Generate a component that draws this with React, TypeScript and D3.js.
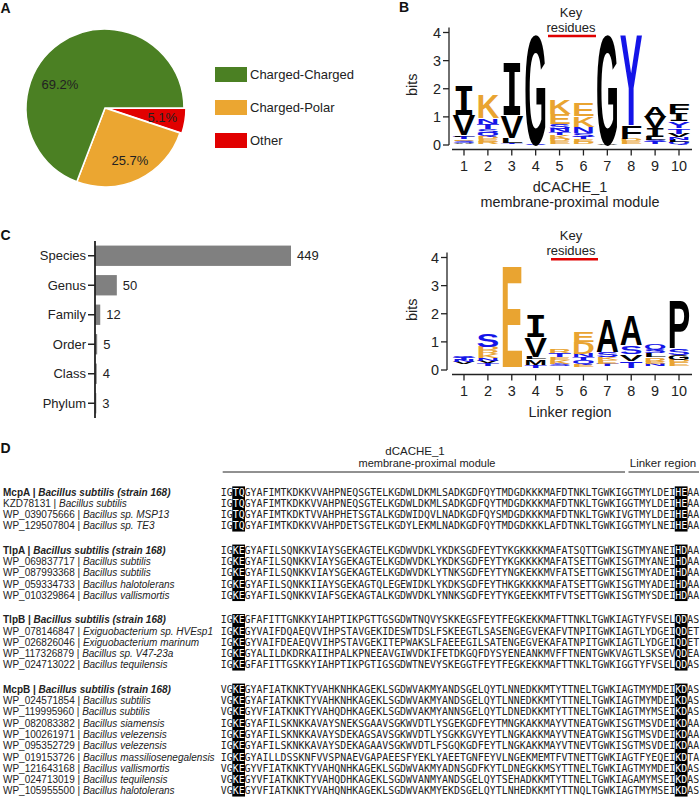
import React from 'react';
import * as d3 from 'd3';

const SANS = '"Liberation Sans", Arial, sans-serif';
const MONO = '"DejaVu Sans Mono", monospace';
const ORANGE = '#e9a431';
const BLUE = '#1414e8';

// Panel A: interaction types
const interactionTypes = ['Charged-Charged', 'Charged-Polar', 'Other'];
const interactionShare = [69.2, 25.7, 5.1];
const interactionColors = ['#4b8023', '#eba631', '#e10000'];

// Panel C: taxonomic ranks
const taxRanks = ['Species', 'Genus', 'Family', 'Order', 'Class', 'Phylum'];
const taxCounts = [449, 50, 12, 5, 4, 3];

// Logos
const logoPositions = [1, 2, 3, 4, 5, 6, 7, 8, 9, 10];
const bitTicks = [0, 1, 2, 3, 4];

type Stack = [string, number][];

const dcacheBase = [0.02, 0.03, 0.02, 0, 0.03, 0.03, 0, 0.03, 0.03, 0.02];
const dcacheStacks: Stack[] = [
  [['A', 0.06], ['S', 0.07], ['E', 0.06], ['T', 0.08], ['L', 0.06], ['V', 0.73], ['I', 1.02]],
  [['R', 0.08], ['E', 0.1], ['D', 0.1], ['Q', 0.12], ['S', 0.15], ['T', 0.17], ['N', 0.2], ['K', 0.85]],
  [['T', 0.05], ['L', 0.18], ['V', 0.8], ['I', 1.85]],
  [['S', 0.03], ['G', 3.97]],
  [['E', 0.1], ['D', 0.1], ['K', 0.12], ['T', 0.1], ['N', 0.13], ['S', 0.16], ['E', 0.35], ['K', 0.5]],
  [['D', 0.07], ['E', 0.1], ['T', 0.1], ['S', 0.12], ['N', 0.23], ['K', 0.38], ['E', 0.45]],
  [['A', 0.03], ['G', 3.97]],
  [['E', 0.1], ['D', 0.09], ['F', 0.48], ['Y', 3.3]],
  [['T', 0.07], ['S', 0.08], ['L', 0.12], ['I', 0.3], ['V', 0.4], ['A', 0.35]],
  [['Q', 0.08], ['L', 0.08], ['N', 0.1], ['V', 0.12], ['T', 0.2], ['Y', 0.25], ['I', 0.25], ['F', 0.37]],
];

const linkerBase = [0.2, 0.15, 0.1, 0.08, 0.15, 0.12, 0.15, 0.08, 0.15, 0.15];
const linkerStacks: Stack[] = [
  [['V', 0.07], ['N', 0.08], ['T', 0.07], ['S', 0.06], ['Q', 0.05]],
  [['T', 0.1], ['V', 0.08], ['N', 0.1], ['K', 0.14], ['R', 0.13], ['D', 0.13], ['S', 0.47]],
  [['E', 3.7]],
  [['T', 0.1], ['M', 0.2], ['L', 0.1], ['V', 0.7], ['I', 0.8]],
  [['S', 0.08], ['K', 0.12], ['E', 0.1], ['T', 0.15], ['R', 0.15]],
  [['E', 0.08], ['Q', 0.15], ['T', 0.1], ['N', 0.12], ['D', 0.43], ['E', 0.38]],
  [['T', 0.07], ['E', 0.13], ['K', 0.1], ['S', 0.2], ['A', 1.2]],
  [['T', 0.25], ['V', 0.25], ['S', 0.3], ['A', 1.08]],
  [['N', 0.08], ['E', 0.07], ['R', 0.15], ['L', 0.15], ['S', 0.15], ['Q', 0.2]],
  [['E', 0.12], ['D', 0.1], ['G', 0.18], ['S', 0.22], ['P', 1.73]],
];

// Panel D: alignment
const mcpaIds = ['McpA', 'KZD78131', 'WP_039075666', 'WP_129507804'];
const mcpaSpecies = ['Bacillus subtilis (strain 168)', 'Bacillus subtilis', 'Bacillus sp. MSP13', 'Bacillus sp. TE3'];
const mcpaSeqs = [
  'IGTQGYAFIMTKDKKVVAHPNEQSGTELKGDWLDKMLSADKGDFQYTMDGDKKKMAFDTNKLTGWKIGGTMYLDEIHEAA',
  'IGTQGYAFIMTKDKKVVAHPNEQSGTELKGDWLDKMLSADKGDFQYTMDGDKKKMAFDTNKLTGWKIGGTMYLDEIHEAA',
  'IGTQGYAFIMTKDKTVVAHPHETSGTALKGDWIDQVLNADKGDFQYSMDGDKKKMAFDTNKLTGWKIVGTMYLDEIHEAA',
  'IGTQGYAFIMTKDKKVVAHPDETSGTELKGDYLEKMLNADKGDFQYTMDGDKKKLAFDTNKLTGWKIGGTMYLNEIHEAA',
];
const tlpaIds = ['TlpA', 'WP_069837717', 'WP_087993368', 'WP_059334733', 'WP_010329864'];
const tlpaSpecies = ['Bacillus subtilis (strain 168)', 'Bacillus subtilis', 'Bacillus subtilis', 'Bacillus halotolerans', 'Bacillus vallismortis'];
const tlpaSeqs = [
  'IGKEGYAFILSQNKKVIAYSGEKAGTELKGDWVDKLYKDKSGDFEYTYKGKKKKMAFATSQTTGWKISGTMYANEIHDAA',
  'IGKEGYAFILSQNKKVIAYSGEKAGTELKGDWVDKLYKDKSGDFEYTYKGKKKKMAFATSETTGWKISGTMYANEIHDAA',
  'IGKEGYAFILSQNKKVIAYSGEKAGTELKGDWVDKLYTNKSGDFEYTYNGKEKKMVFATSETTGWKISGTMYADEIHDAA',
  'IGKEGYAFILSQNKKIIAYSGEKAGTQLEGEWIDKLYKDKSGDFEYTHKGKKKKMAFATSETTGWKISGTMYADEIHDAA',
  'IGKEGYAFILSQNKKVIAFSGEKAGTALKGDWVDKLYNNKSGDFEYTYKGEEKKMTFVTSETTGWKISGTMYSDEIHDAA',
];
const tlpbIds = ['TlpB', 'WP_078146847', 'WP_026826046', 'WP_117326879', 'WP_024713022'];
const tlpbSpecies = ['Bacillus subtilis (strain 168)', 'Exiguobacterium sp. HVEsp1', 'Exiguobacterium marinum', 'Bacillus sp. V47-23a', 'Bacillus tequilensis'];
const tlpbSeqs = [
  'IGKEGFAFITTGNKKYIAHPTIKPGTTGSGDWTNQVYSKKEGSFEYTFEGKEKKMAFTTNKLTGWKIAGTYFVSELQDAS',
  'IGKEGYVAIFDQAEQVVIHPSTAVGEKIDESWTDSLFSKEEGTLSASENGEGVEKAFVTNPITGWKIAGTLYDGEIQDET',
  'IGKEGYVAIFDEAEQVVIHPSTAVGEKITEPWAKSLFAEEEGILSATENGEGVEKAFATNPITGWKIAGTLYDGEIQDET',
  'IGKEGYALILDKDRKAIIHPALKPNEEAVGIWVDKIFETDKGQFDYSYENEANKMVFFTNENTGWKVAGTLSKSEVQDEA',
  'IGKEGFAFITTGSKKYIAHPTIKPGTIGSGDWTNEVYSKEGGTFEYTFEGKEKKMAFTTNKLTGWKIGGTYFVSELQDAS',
];
const mcpbIds = ['McpB', 'WP_024571854', 'WP_119995960', 'WP_082083382', 'WP_100261971', 'WP_095352729', 'WP_019153726', 'WP_121643168', 'WP_024713019', 'WP_105955500'];
const mcpbSpecies = ['Bacillus subtilis (strain 168)', 'Bacillus subtilis', 'Bacillus subtilis', 'Bacillus siamensis', 'Bacillus velezensis', 'Bacillus velezensis', 'Bacillus massiliosenegalensis', 'Bacillus vallismortis', 'Bacillus tequilensis', 'Bacillus halotolerans'];
const mcpbSeqs = [
  'VGKEGYAFIATKNKTYVAHKNHKAGEKLSGDWVAKMYANDSGELQYTLNNEDKKMTYTTNELTGWKIAGTMYMDEIKDAS',
  'VGKEGYAFIATKNKTYVAHKNHKAGEKLSGDWVAKMYANDSGELQYTLNNEDKKMTYTTNELTGWKIAGTMYMDEIKDAS',
  'VGKEGYVFIATKNKTYVAHQDHKAGEKLSGDWVAKMYANNSGELQYTLDNEDKKMTYTTNELTGWKIAGTMYMSEIKDAS',
  'IGKEGYAFILSKNKKAVAYSNEKSGAAVSGKWVDTLYSGEKGDFEYTMNGKAKKMAYVTNEATGWKISGTMSVDEIKDAA',
  'IGKEGYAFILSKNKKAVAYSDEKAGSAVSGKWVDTLYSGKKGVYEYTLNGKAKKMAYVTNEATGWKISGTMSVDEIKDAA',
  'IGKEGYAFILSKNKKAVAYSDEKAGAAVSGKWVDTLFSGQKGDFEYTLNGKAKKMAYVTNEVTGWKISGTMSVDEIKDAA',
  'IGKEGYAILLDSSKNFVVSPNAEVGAPAEESFYEKLYAEETGNFEYVLNGEKMEMTFVTNETTGWKIAGTFYEQEIKDTA',
  'VGKEGYVFIATKNKTYVAHQNHKAGEKLSGDWVAKMYADNSGDFKYTLDNEGKKMSYTTNELTGWKIAGTMYMDEIKDAS',
  'VGKEGYVFIATKNKTYVAHQDHKAGEKLSGDWVANMYANDSGELQYTSEHADKKMTYTTNELTGWKIAGAMYMSEIKDAS',
  'VGKEGYVFIATKNKTYVAHQNHKAGEKLSGDWVAKMYEKDSGELQYTLNHEDKKMTYTTNQLTGWKIAGTMYMSEIKDAS',
];
const conservedCols = [2, 3, 76, 77];

const residueColor = (aa: string) =>
  'KEDRH'.includes(aa) ? ORANGE : 'STNQYC'.includes(aa) ? BLUE : '#000';

function SeqLogo(props: {
  stacks: Stack[]; bases: number[]; zeroY: number; axisX: number;
  titles: string[]; keyY: number; keyLine: [number, number];
}) {
  const { stacks, bases, zeroY, axisX, titles, keyY, keyLine } = props;
  const x = d3.scaleLinear().domain([1, 10]).range([464, 679]);
  const y = d3.scaleLinear().domain([0, 4]).range([zeroY, zeroY - 112.5]);
  const colW = 22.8;
  const xAxisY = zeroY + 4.5;
  const letters: React.ReactNode[] = [];
  stacks.forEach((stack, ci) => {
    let acc = bases[ci];
    stack.forEach(([aa, h], li) => {
      const bottom = y(acc);
      const top = y(acc + h);
      acc += h;
      const ph = bottom - top;
      const serif = aa === 'I';
      const cap = serif ? 72.9 : 71.6;
      letters.push(
        <text key={`${ci}-${li}`} x={0} y={0} fontSize={100}
          fontFamily={serif ? MONO : SANS} fontWeight="bold" fill={residueColor(aa)}
          textLength={colW} lengthAdjust="spacingAndGlyphs"
          transform={`translate(${x(logoPositions[ci]) - colW / 2},${bottom}) scale(1,${ph / cap})`}>
          {aa}
        </text>
      );
    });
  });
  return (
    <g fontFamily={SANS} fill="#222">
      <text x={571} y={keyY} fontSize={13} textAnchor="middle">Key</text>
      <text x={571} y={keyY + 15.2} fontSize={13} textAnchor="middle">residues</text>
      <line x1={keyLine[0]} x2={keyLine[1]} y1={keyY + 19.6} y2={keyY + 19.6} stroke="#e00000" strokeWidth={2.5} />
      {letters}
      <line x1={axisX} x2={axisX} y1={y(0)} y2={y(4.18)} stroke="#222" strokeWidth={1.3} />
      {bitTicks.map(t => (
        <g key={t}>
          <line x1={axisX - 6} x2={axisX} y1={y(t)} y2={y(t)} stroke="#222" strokeWidth={1.3} />
          <text x={axisX - 8} y={y(t)} dy="0.36em" fontSize={14.4} textAnchor="end">{t}</text>
        </g>
      ))}
      <text transform={`translate(411.7,${y(2) - 4}) rotate(-90)`} dy="0.36em" fontSize={14.4} textAnchor="middle">bits</text>
      <line x1={452} x2={692} y1={xAxisY} y2={xAxisY} stroke="#222" strokeWidth={1.3} />
      {logoPositions.map(p => (
        <g key={p}>
          <line x1={x(p)} x2={x(p)} y1={xAxisY} y2={xAxisY + 6} stroke="#222" strokeWidth={1.3} />
          <text x={x(p)} y={zeroY + 26} fontSize={14.4} textAnchor="middle">{p}</text>
        </g>
      ))}
      {titles.map((t, i) => (
        <text key={t} x={570} y={zeroY + 46.8 + i * 15.1} fontSize={14.4} textAnchor="middle">{t}</text>
      ))}
    </g>
  );
}

// split a sequence into plain and highlighted runs
function seqRuns(s: string) {
  const runs: { text: string; hi: boolean }[] = [];
  for (let i = 0; i < s.length; i++) {
    const hi = conservedCols.includes(i);
    const last = runs[runs.length - 1];
    if (last && last.hi === hi) last.text += s[i];
    else runs.push({ text: s[i], hi });
  }
  return runs;
}

export default function App() {
  // Panel A
  const pieCx = 105, pieCy = 108, pieR = 79;
  const pie = d3.pie<number>().sort(null).value(i => interactionShare[i])
    .startAngle(Math.PI / 2).endAngle(Math.PI / 2 + 2 * Math.PI);
  const slices = pie([2, 1, 0]);
  const arc = d3.arc<d3.PieArcDatum<number>>().innerRadius(0).outerRadius(pieR);
  const labelShift = [-0.48, 0, 0];
  const labelR = [51, 58, 58];

  // Panel C bars
  const bx = d3.scaleLinear().domain([0, 449]).range([95, 291]);
  const by = d3.scaleBand<string>().domain(taxRanks).range([241, 418]).paddingInner(0.31).paddingOuter(0.155);

  // Panel D
  const groups = [
    { ids: mcpaIds, species: mcpaSpecies, seqs: mcpaSeqs },
    { ids: tlpaIds, species: tlpaSpecies, seqs: tlpaSeqs },
    { ids: tlpbIds, species: tlpbSpecies, seqs: tlpbSeqs },
    { ids: mcpbIds, species: mcpbSpecies, seqs: mcpbSeqs },
  ];
  const seqX = 220.7, cw = 5.98, rowH = 11.3, groupGap = 13, firstY = 492;
  let rowCount = 0;
  const groupRows = groups.map((g, gi) => {
    const ys = g.seqs.map((_, ri) => firstY + (rowCount + ri) * rowH + gi * groupGap);
    rowCount += g.seqs.length;
    return ys;
  });

  return (
    <svg width={700} height={807} style={{ position: 'absolute', left: 0, top: 0, background: '#fff' }}>
      {/* panel letters */}
      <g fontFamily={SANS} fontWeight="bold" fontSize={14} fill="#111">
        <text x={0.5} y={13}>A</text>
        <text x={399} y={12}>B</text>
        <text x={0.5} y={240}>C</text>
        <text x={0.5} y={453}>D</text>
      </g>

      {/* A: pie */}
      <g transform={`translate(${pieCx},${pieCy})`}>
        {slices.map(s => {
          const mid = (s.startAngle + s.endAngle) / 2;
          const off = s.data === 2 ? 2 : 0;
          return (
            <path key={s.data} d={arc(s) || ''} fill={interactionColors[s.data]}
              stroke="#fff" strokeWidth={1.6}
              transform={`translate(${Math.sin(mid) * off},${-Math.cos(mid) * off})`} />
          );
        })}
        {slices.map(s => {
          const a = (s.startAngle + s.endAngle) / 2 + labelShift[s.data];
          const r = labelR[s.data];
          return (
            <text key={s.data} x={Math.sin(a) * r} y={-Math.cos(a) * r} dy="0.35em"
              fontFamily={SANS} fontSize={13} fill="#222" textAnchor="middle">
              {interactionShare[s.data].toFixed(1)}%
            </text>
          );
        })}
      </g>
      {interactionTypes.map((t, i) => (
        <g key={t} transform={`translate(215,${67 + i * 33})`}>
          <rect width={32} height={15} fill={interactionColors[i]} />
          <text x={35} y={7.5} dy="0.35em" fontFamily={SANS} fontSize={13} fill="#222">{t}</text>
        </g>
      ))}

      {/* B: dCACHE logo */}
      <SeqLogo stacks={dcacheStacks} bases={dcacheBase} zeroY={145} axisX={449}
        titles={['dCACHE_1', 'membrane-proximal module']} keyY={16.5} keyLine={[548, 596]} />

      {/* C: bar chart */}
      <g fontFamily={SANS} fontSize={13} fill="#222">
        {taxRanks.map((r, i) => {
          const yc = (by(r) || 0) + by.bandwidth() / 2;
          return (
            <g key={r}>
              <rect x={bx(0)} y={by(r)} width={bx(taxCounts[i]) - bx(0)} height={by.bandwidth()} fill="#808080" />
              <text x={bx(taxCounts[i]) + 6} y={yc} dy="0.35em">{taxCounts[i]}</text>
              <line x1={88} x2={95} y1={yc} y2={yc} stroke="#222" strokeWidth={1.5} />
              <text x={86} y={yc} dy="0.35em" textAnchor="end">{r}</text>
            </g>
          );
        })}
        <line x1={95} x2={95} y1={241} y2={418} stroke="#222" strokeWidth={1.8} />
      </g>

      {/* C: linker logo */}
      <SeqLogo stacks={linkerStacks} bases={linkerBase} zeroY={370} axisX={447}
        titles={['Linker region']} keyY={239.6} keyLine={[551, 598]} />

      {/* D: alignment */}
      <g fontFamily={SANS} fill="#222">
        <text x={415} y={455} fontSize={11.5} textAnchor="middle">dCACHE_1</text>
        <text x={427} y={467} fontSize={11} textAnchor="middle">membrane-proximal module</text>
        <text x={663} y={467} fontSize={11.5} textAnchor="middle">Linker region</text>
        <line x1={222.7} x2={625} y1={472} y2={472} stroke="#222" strokeWidth={1} />
        <line x1={628.5} x2={699} y1={472} y2={472} stroke="#222" strokeWidth={1} />
      </g>
      {groups.map((g, gi) => {
        const ys = groupRows[gi];
        return (
          <g key={gi}>
            {[0, 2].map(k => (
              <rect key={k} x={seqX + conservedCols[k] * cw - 0.4} width={2 * cw + 0.8}
                y={ys[0] - rowH / 2} height={ys[ys.length - 1] - ys[0] + rowH} fill="#000" />
            ))}
            {g.seqs.map((s, ri) => (
              <g key={ri}>
                <text x={3} y={ys[ri]} dy="0.35em" fontFamily={SANS} fontSize={10} fill="#222"
                  fontWeight={ri === 0 ? 'bold' : 'normal'} style={{ whiteSpace: 'pre' }}>
                  <tspan>{g.ids[ri] + ' | '}</tspan>
                  <tspan fontStyle="italic">{g.species[ri]}</tspan>
                </text>
                <text x={seqX} y={ys[ri]} dy="0.36em" fontFamily={MONO} fontSize={9.9} fill="#222"
                  textLength={s.length * cw} lengthAdjust="spacing">
                  {seqRuns(s).map((run, k) => (
                    <tspan key={k} fill={run.hi ? '#fff' : '#222'}>{run.text}</tspan>
                  ))}
                </text>
              </g>
            ))}
          </g>
        );
      })}
    </svg>
  );
}
